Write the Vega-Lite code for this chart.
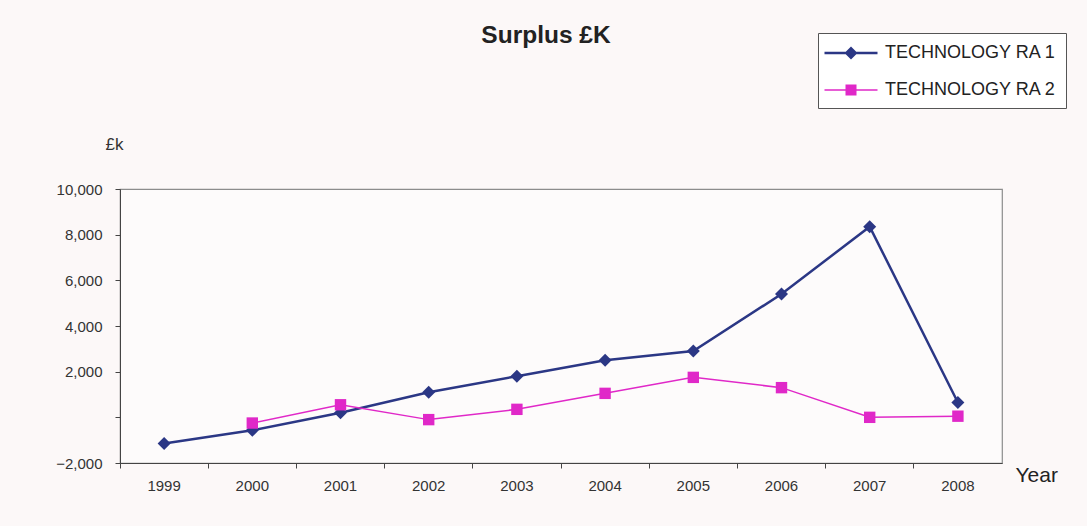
{
  "$schema": "https://vega.github.io/schema/vega-lite/v6.json",
  "width": 882,
  "height": 274,
  "autosize": {"type": "none"},
  "padding": {"left": 120, "top": 189, "right": 85, "bottom": 63},
  "background": "#fcf8f8",
  "title": {
    "text": "Surplus £K",
    "font": "Liberation Sans",
    "fontSize": 24.5,
    "fontWeight": "bold",
    "color": "#222222",
    "anchor": "middle",
    "dx": -15,
    "offset": -35,
    "baseline": "alphabetic"
  },
  "config": {
    "font": "Liberation Sans",
    "view": {"stroke": "#8c8c8c", "strokeWidth": 1.2, "fill": "#fdfbfb"}
  },
  "data": {
    "values": [
      {"year": "1999", "series": "TECHNOLOGY RA 1", "surplus": -1150},
      {"year": "2000", "series": "TECHNOLOGY RA 1", "surplus": -570},
      {"year": "2001", "series": "TECHNOLOGY RA 1", "surplus": 200},
      {"year": "2002", "series": "TECHNOLOGY RA 1", "surplus": 1100},
      {"year": "2003", "series": "TECHNOLOGY RA 1", "surplus": 1800},
      {"year": "2004", "series": "TECHNOLOGY RA 1", "surplus": 2500},
      {"year": "2005", "series": "TECHNOLOGY RA 1", "surplus": 2900},
      {"year": "2006", "series": "TECHNOLOGY RA 1", "surplus": 5400},
      {"year": "2007", "series": "TECHNOLOGY RA 1", "surplus": 8350},
      {"year": "2008", "series": "TECHNOLOGY RA 1", "surplus": 650},
      {"year": "2000", "series": "TECHNOLOGY RA 2", "surplus": -250},
      {"year": "2001", "series": "TECHNOLOGY RA 2", "surplus": 550},
      {"year": "2002", "series": "TECHNOLOGY RA 2", "surplus": -100},
      {"year": "2003", "series": "TECHNOLOGY RA 2", "surplus": 350},
      {"year": "2004", "series": "TECHNOLOGY RA 2", "surplus": 1050},
      {"year": "2005", "series": "TECHNOLOGY RA 2", "surplus": 1750},
      {"year": "2006", "series": "TECHNOLOGY RA 2", "surplus": 1300},
      {"year": "2007", "series": "TECHNOLOGY RA 2", "surplus": 0},
      {"year": "2008", "series": "TECHNOLOGY RA 2", "surplus": 50}
    ]
  },
  "encoding": {
    "x": {
      "field": "year",
      "type": "ordinal",
      "scale": {"type": "band", "paddingInner": 0, "paddingOuter": 0},
      "axis": {
        "bandPosition": 0,
        "labelAngle": 0,
        "tickSize": 5,
        "labelPadding": 10,
        "labelFontSize": 15,
        "labelColor": "#333333",
        "domainColor": "#444444",
        "tickColor": "#444444",
        "title": "Year",
        "titleX": 895,
        "titleY": 12,
        "titleAlign": "left",
        "titleBaseline": "middle",
        "titleFontSize": 21,
        "titleFontWeight": "normal",
        "titleColor": "#222222"
      }
    },
    "y": {
      "field": "surplus",
      "type": "quantitative",
      "scale": {"domain": [-2000, 10000], "nice": false, "zero": false},
      "axis": {
        "values": [-2000, 0, 2000, 4000, 6000, 8000, 10000],
        "labelExpr": "datum.value === 0 ? '' : format(datum.value, ',')",
        "grid": false,
        "tickSize": 5,
        "labelPadding": 13,
        "labelFontSize": 15,
        "labelColor": "#333333",
        "domainColor": "#444444",
        "tickColor": "#444444",
        "title": "£k",
        "titleAngle": 0,
        "titleX": 3,
        "titleY": -40,
        "titleAlign": "right",
        "titleBaseline": "alphabetic",
        "titleFontSize": 17,
        "titleFontWeight": "normal",
        "titleColor": "#333333"
      }
    }
  },
  "layer": [
    {
      "mark": {"type": "line"},
      "encoding": {
        "color": {
          "field": "series",
          "type": "nominal",
          "scale": {"domain": ["TECHNOLOGY RA 1", "TECHNOLOGY RA 2"], "range": ["#2b3785", "#e028c8"]},
          "legend": null
        },
        "strokeWidth": {
          "field": "series",
          "type": "nominal",
          "scale": {"domain": ["TECHNOLOGY RA 1", "TECHNOLOGY RA 2"], "range": [2.5, 1.5]},
          "legend": null
        }
      }
    },
    {
      "mark": {"type": "point", "filled": true, "opacity": 1},
      "encoding": {
        "color": {
          "field": "series",
          "type": "nominal",
          "scale": {"domain": ["TECHNOLOGY RA 1", "TECHNOLOGY RA 2"], "range": ["#2b3785", "#e028c8"]},
          "legend": null
        },
        "shape": {
          "field": "series",
          "type": "nominal",
          "scale": {"domain": ["TECHNOLOGY RA 1", "TECHNOLOGY RA 2"], "range": ["diamond", "square"]},
          "legend": null
        },
        "size": {
          "field": "series",
          "type": "nominal",
          "scale": {"domain": ["TECHNOLOGY RA 1", "TECHNOLOGY RA 2"], "range": [169, 130]},
          "legend": null
        }
      }
    },
    {
      "description": "Legend key: a line with its marker for each series; the marks themselves are not shown.",
      "mark": {"type": "point", "filled": true, "opacity": 0},
      "encoding": {
        "color": {
          "field": "series",
          "type": "nominal",
          "scale": {"domain": ["TECHNOLOGY RA 1", "TECHNOLOGY RA 2"], "range": ["#2b3785", "#e028c8"]},
          "legend": {
            "orient": "none",
            "legendX": 698,
            "legendY": -156,
            "title": null,
            "labelFontSize": 18,
            "labelLimit": 400,
            "labelColor": "#222222",
            "labelOffset": 23,
            "symbolOffset": 13,
            "symbolSize": 400,
            "symbolOpacity": 1,
            "rowPadding": 16,
            "padding": 9,
            "strokeColor": "#555555",
            "fillColor": "#ffffff"
          }
        },
        "shape": {
          "field": "series",
          "type": "nominal",
          "scale": {
            "domain": ["TECHNOLOGY RA 1", "TECHNOLOGY RA 2"],
            "range": [
              "M-2.65,-0.125H2.65V0.125H-2.65ZM0,-0.65L0.65,0L0,0.65L-0.65,0Z",
              "M-2.65,-0.075H2.65V0.075H-2.65ZM-0.55,-0.55H0.55V0.55H-0.55Z"
            ]
          },
          "legend": {
            "orient": "none",
            "legendX": 698,
            "legendY": -156,
            "title": null,
            "labelFontSize": 18,
            "labelLimit": 400,
            "labelColor": "#222222",
            "labelOffset": 23,
            "symbolOffset": 13,
            "symbolSize": 400,
            "symbolOpacity": 1,
            "rowPadding": 16,
            "padding": 9,
            "strokeColor": "#555555",
            "fillColor": "#ffffff"
          }
        }
      }
    }
  ],
  "resolve": {
    "scale": {"color": "independent", "shape": "independent", "size": "independent", "strokeWidth": "independent"}
  }
}
